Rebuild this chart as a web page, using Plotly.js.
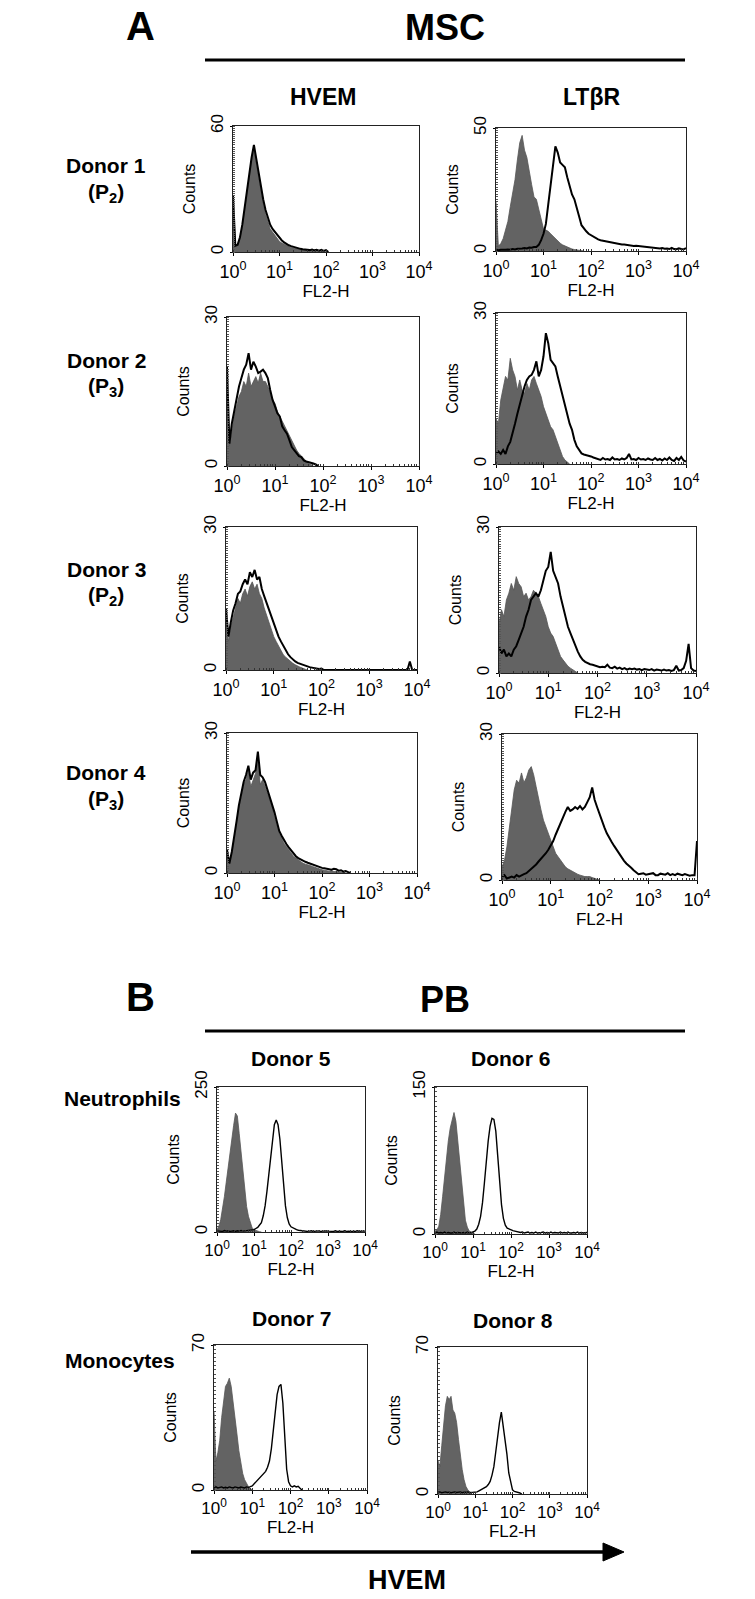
<!DOCTYPE html>
<html><head><meta charset="utf-8">
<script src="https://cdn.plot.ly/plotly-3.0.1.min.js"></script>
<style>html,body{margin:0;padding:0;background:#fff}#chart{width:755px;height:1599px}</style>
</head><body><div id="chart"></div>
<script>
// FL2-H channel bin positions (log10 of fluorescence)
const channelsLog10 = [0,0.05,0.1,0.15,0.2,0.25,0.3,0.35,0.4,0.45,0.5,0.55,0.6,0.65,0.7,0.75,0.8,0.85,0.9,0.95,1,1.05,1.1,1.15,1.2,1.25,1.3,1.35,1.4,1.45,1.5,1.55,1.6,1.65,1.7,1.75,1.8,1.85,1.9,1.95,2,2.05,2.1,2.15,2.2,2.25,2.3,2.35,2.4,2.45,2.5,2.55,2.6,2.65,2.7,2.75,2.8,2.85,2.9,2.95,3,3.05,3.1,3.15,3.2,3.25,3.3,3.35,3.4,3.45,3.5,3.55,3.6,3.65,3.7,3.75,3.8,3.85,3.9,3.95,4];
const xTickVals = [1,10,100,1000,10000];
const xTickText = ["10<sup>0</sup>","10<sup>1</sup>","10<sup>2</sup>","10<sup>3</sup>","10<sup>4</sup>"];

// Panel A: MSC, counts per channel (isotype = grey filled, stain = black outline)
const hvemD1Iso   = [27,3,3,6.6,12,20,30,37,44,49,42,37,29,23,18,14,11,9.5,8,6.5,5,4.3,3.6,3,2.6,2.2,1.9,1.5,1.2,1.1,0.9,0.8,0.7,0.5,0.4,0.3,0.3,0.2,0.1,0,0];
const hvemD1Stain = [27,3,3.5,7,13,21,31,38,45,51,44,38,31,25,20,16,13,11,9.5,8,6.5,5.5,4.6,3.8,3.2,2.8,2.4,2,1.8,1.5,1.3,1.2,1.1,0.9,1.2,0.8,1,0.6,1,0.5,0.9,0];
const ltbrD1Iso   = [20,2,3,5,8.5,12,18,23,29,37,44,47,41,38,32,27,22,21,17,12.5,9,8.5,8,7,6,5,4,3.2,2.5,2,1.5,1.1,0.8,0.6,0.4,0.3,0.2,0];
const ltbrD1Stain = [0.5,0.3,0.5,0.4,0.5,0.6,0.5,0.8,0.6,0.9,0.8,1,1.2,1,1.4,1.3,1.6,1.6,2.5,4.4,7,11,19,27.5,36,42.5,40,36,35,34,30,26,23,21,18,14,10.5,9,8,7,6.4,5.6,5,4.7,4.4,4.2,4,3.8,3.7,3.3,3,2.8,2.7,2.6,2.6,2.4,2.3,2.1,2,2.1,2,1.8,1.6,1.5,1.4,1.3,1.2,1.3,1.2,1,1.2,0.9,1,0.8,1.3,0.8,0.7,1.1,0.8,0.7,1.2];
const hvemD2Iso   = [19,4,7,10,12,14,15,17,16,18.7,16,17,18,16.7,18.7,17,17,16,14.6,13.3,12.6,11,10,9,8,7,6,5,4,3.2,2.5,2,1.5,1,0.5,0.3,0];
const hvemD2Stain = [20,4.5,8.5,11,13,16,17.7,19.4,20.4,22.7,19.4,21,20,18.7,19,19.4,18.7,17.7,15.3,13.3,12,10.6,10,8,7.2,6.5,5.2,3.8,3.2,2.5,2,1.8,1.1,0.9,0.8,0.6,0.5,0.3,0];
const ltbrD2Iso   = [9,8,12.7,15.4,17.4,16.7,21,18.7,17.4,14.7,16.7,14.7,14,16,14.7,16.7,17.4,16,14.7,13.4,11.4,10,8.8,7.4,6.8,5.4,4,2.8,1.5,0.8,0.3,0];
const ltbrD2Stain = [2,2.5,2,2.8,2,3.5,4.4,6,8,10,12,14,15.4,16.7,17.4,17.7,18.7,20.4,17.4,18.7,21.4,26,24,20.7,20,19.4,17.4,15.4,13.4,11.4,9.4,8,6.8,4.8,3.5,2.8,2.1,1.9,1.8,1.6,1.5,1.3,1.1,1,0.8,1.2,0.9,1,0.8,1.3,0.9,1,0.8,1.1,0.9,1.2,2,0.9,1,0.8,1.2,0.9,1,0.8,1.1,0.9,0.8,1.2,0.8,1,0.7,1.1,0.8,1.3,0.8,0.6,1.2,0.8,1.4,0.7,0.5];
const hvemD3Iso   = [12,6,9,11,13,15,14,16,17,15.5,17.5,18.5,17,18,16,15,13,11.5,10,8.5,7,6,5,4,3.2,2.7,2.2,1.8,1.4,1.1,0.8,0.6,0.4,0.2,0];
const hvemD3Stain = [13,7,10,12.5,14,16,16.5,18,19,18,20.5,19.5,21,19,19.5,17,15.5,14,12.5,11,9.5,8,7,6,5,4,3.3,2.7,2.2,1.8,1.5,1.3,1.2,1,0.8,0.6,0.5,0.4,0.3,0.2,0.3,0,0,0,0,0,0,0,0,0,0,0,0,0,0,0,0,0,0,0,0,0,0,0,0,0,0,0,0,0,0,0,0,0,0,0,0,1.8,0,0,0];
const ltbrD3Iso   = [10,13,11.6,15,16.4,18.4,17,19.8,18.4,17.7,15.7,16.4,15,15.7,17,16.4,15.7,14.3,13,11.6,9.5,8.2,7.5,6.1,4.8,3.4,2.7,2,1.4,1,0.7,0.3,0];
const ltbrD3Stain = [5.5,4,4.8,3.4,4,3.4,4.8,5.5,6.8,8.2,9.5,11.6,13,15,15.7,16.4,15.7,17,19,21,21.8,24.9,21,19.8,18.4,15.7,13.6,11.6,9.5,8.2,6.8,5.5,4.4,3.4,2.7,2.3,2,1.8,1.7,1.5,1.4,1.2,1.3,1.2,1.7,1.1,1,1.3,0.9,1.1,0.8,1,0.7,0.9,0.8,0.9,0.7,0.8,0.6,0.8,0.7,0.6,0.8,0.5,0.7,0.6,0.5,0.7,0.5,0.6,0.4,0.6,1.5,0.5,0.6,1,2.5,6,1,0.5,0.4];
const hvemD4Iso   = [5,2,4.3,7,10.7,14.2,16.3,19,20,22,18.5,20,21.3,24.2,19,20,18.5,17,15.6,14.2,12,10,8.5,7.5,6.4,5.7,5,4.3,3.6,3.2,2.8,2.4,2.1,1.9,1.8,1.6,1.4,1.2,1,0.8,0.7,0.6,0.5,0.4,0.5,0.3,0.3,0.2,0.2,0.1,0];
const hvemD4Stain = [5,2,4.5,7.5,11,14.5,17,19.5,21,23,20,21.5,22,26,21,20.5,19.5,18,16.5,15,13,11,9,8,7,6.2,5.5,4.8,4.2,3.6,3.2,2.9,2.6,2.4,2.2,2,1.8,1.6,1.4,1.2,1.1,1,0.9,0.8,0.7,0.9,0.8,0.5,0.6,0.3,0.4,0.2,0];
const ltbrD4Iso   = [2.7,4,6.8,11,15,18.5,20.5,19.9,22,20,21,22.6,23.3,21.6,19.2,16.4,14.4,12.3,11,9.6,8.2,6.8,5.5,4.8,4.1,3.4,2.7,2.3,2,1.7,1.4,1.2,1,0.8,0.7,0.7,0.7,0.5,0.3,0.2,0];
const ltbrD4Stain = [0.7,1,0.3,0.5,0.7,0.5,1,0.7,1,1.2,1.4,1.8,2.2,2.7,3.2,3.8,4.3,5,5.5,6.2,7,8,9.3,10.5,12,13,14,15,14.2,14.5,15,14.6,15.2,14.5,15,16,17,19,16.5,15,13.5,12,10.8,9.6,8.6,7.8,7,6.2,5.5,4.8,4,3.4,3,2.5,2,1.5,1.2,1.3,1.4,1.1,1.2,1.3,1.4,1,1,1.3,1.2,1.1,1.4,1,1.2,1,1.3,1.1,1,1.2,1,0.9,1,1,8];

// Panel B: peripheral blood, HVEM
const neutD5Iso   = [4,10,21,38,61,86,113,140,164,184,205,200,170,136,101,67,44,27,15,7,4,2.5,1,0.5,0];
const neutD5Stain = [2,1.5,2,1,2.5,1.5,2,1,1.5,2,1,2,1.5,2.5,1.5,2,2,2.5,3,3.5,4,6,8,12,16,28,45,70,100,135,165,185,193,185,160,120,80,45,25,14,9,7,5,4,3,2.5,2,1.5,2,1,1.5,2,1,1.5,1,2,1,1.5,1,2,1.5,1,1.5,1,2,1,1.5,1,1,2,1,1.5,1,1,1.5,1,2,1,1.5,1,1.5];
const neutD6Iso   = [3,4,8,20,38,58,78,95,108,118,124,115,95,70,48,28,14,7,3,2,1,0];
const neutD6Stain = [1,2,1,1.5,1,2,1,1.5,1,1,2,1,1.5,1,1,1.5,1,2,1,1.5,2,3,5,10,18,32,52,75,95,110,118,117,105,80,52,30,16,9,6,5,4,3.5,3,2.5,2,1.5,2,1,1.5,2,1,1.5,1,2,1,1,1.5,2,1,1.5,1,2,1,1.5,1,1,2,1,1.5,1,2,1,1,1.5,1,2,1,1.5,1,1,1.5];
const monoD7Iso   = [38,14,18,24,35,43,50,51.5,54,50,43,35,27,19,13,8,5,3,1.6,0.8,0];
const monoD7Stain = [1,1.5,1,1.2,1.5,1,1.3,1,1.5,1.2,1,1.5,1.2,1,1.4,1.2,1,1.5,1.3,1.6,2,3,4,5,6,7,8,9,11,14,20,28,37,46,50,51,42,25,10,4,2,1.5,2,1.5,1.8,0.8,0];
const monoD8Iso   = [16,13,23,32,42,46.5,45,46.5,40,38.5,34,26,18,11.6,6.8,3.6,2,1,0];
const monoD8Stain = [0.8,1,0.6,0.8,1,0.7,0.9,0.6,0.8,1,0.7,0.8,1,0.6,0.9,0.8,1,0.7,0.9,0.8,0.9,1,1.5,2,2.5,3,3.5,4.5,6,9,13,20,28,34,39,33,27,19,10,5,2,1.2,1,0.8,0.5,0];

const yMaxes = [60,50,30,30,30,30,30,30,250,150,70,70];
const seriesIso   = [hvemD1Iso,ltbrD1Iso,hvemD2Iso,ltbrD2Iso,hvemD3Iso,ltbrD3Iso,hvemD4Iso,ltbrD4Iso,neutD5Iso,neutD6Iso,monoD7Iso,monoD8Iso];
const seriesStain = [hvemD1Stain,ltbrD1Stain,hvemD2Stain,ltbrD2Stain,hvemD3Stain,ltbrD3Stain,hvemD4Stain,ltbrD4Stain,neutD5Stain,neutD6Stain,monoD7Stain,monoD8Stain];

// panel boxes in pixels: [left, top, right, bottom]
const boxes = [
  [233,126,419,252],[496,128,686,251],
  [227,317,419,466],[496,313,686,464],
  [226,527,417,670],[499,527,696,673],
  [227,733,417,873],[502,734,697,880],
  [217,1087,365,1232],[435,1087,587,1234],
  [214,1345,367,1490],[438,1347,587,1494]
];

const W = 755, H = 1599;
const FONT = "Liberation Sans, Arial, Helvetica, sans-serif";
const px = v => v / W, py = v => 1 - v / H;

const traces = [];
const layout = {
  width: W, height: H, margin: {l:0,r:0,t:0,b:0},
  paper_bgcolor: "#fff", plot_bgcolor: "#fff", showlegend: false,
  font: {family: FONT, color: "#000"},
  annotations: [], shapes: []
};

boxes.forEach((b, i) => {
  const k = i + 1, sfx = k === 1 ? "" : String(k);
  const partB = i >= 8;
  const xs = channelsLog10.map(v => Math.pow(10, v));
  const iso = seriesIso[i], st = seriesStain[i];
  traces.push({
    type: "scatter", mode: "lines", x: xs.slice(0, iso.length), y: iso,
    xaxis: "x" + sfx, yaxis: "y" + sfx, fill: "tozeroy",
    fillcolor: "#636363", line: {color: "#555", width: 0.8}, hoverinfo: "skip"
  });
  traces.push({
    type: "scatter", mode: "lines", x: xs.slice(0, st.length), y: st,
    xaxis: "x" + sfx, yaxis: "y" + sfx,
    line: {color: "#000", width: partB ? 1.4 : 2}, hoverinfo: "skip"
  });
  layout["xaxis" + sfx] = {
    type: "log", range: [0, 4], domain: [px(b[0]), px(b[2])], anchor: "y" + sfx,
    tickvals: xTickVals, ticktext: xTickText, ticks: "outside", ticklen: 3,
    tickcolor: "#000", tickfont: {size: partB ? 17 : 18, family: FONT, color: "#000"},
    showline: true, mirror: true, linecolor: "#222", linewidth: 1,
    showgrid: false, zeroline: false,
    minor: {dtick: "D1", ticks: "inside", ticklen: 2, tickcolor: "#333", showgrid: false},
    title: {text: "FL2-H", font: {size: 17, family: FONT, color: "#000"}, standoff: 1}
  };
  layout["yaxis" + sfx] = {
    range: [0, yMaxes[i]], domain: [py(b[3]), py(b[1])], anchor: "x" + sfx,
    tickvals: [0, yMaxes[i]], ticktext: ["0", String(yMaxes[i])], tickangle: -90,
    ticks: "outside", ticklen: 2, tickcolor: "#000",
    tickfont: {size: 17, family: FONT, color: "#000"},
    showline: true, mirror: true, linecolor: "#222", linewidth: 1,
    showgrid: false, zeroline: false,
    minor: {nticks: 14, ticks: "inside", ticklen: 2, tickcolor: "#555", showgrid: false},
    title: {text: "Counts", font: {size: 16, family: FONT, color: "#000"}, standoff: 8}
  };
});

function txt(t, x, y, size, opts) {
  layout.annotations.push(Object.assign({
    text: t, x: px(x), y: py(y), xref: "paper", yref: "paper",
    xanchor: "center", yanchor: "middle", showarrow: false,
    font: {size: size, family: FONT, color: "#000"}
  }, opts || {}));
}
// Panel A headings
txt("<b>A</b>", 140, 26, 40);
txt("<b>MSC</b>", 445, 27, 36);
txt("<b>HVEM</b>", 323, 97, 23);
txt("<b>LTβR</b>", 591, 97, 23);
const rowLabels = [["Donor 1","2"],["Donor 2","3"],["Donor 3","2"],["Donor 4","3"]];
const rowLabelY = [166, 360, 569, 773];
rowLabels.forEach((r, j) => {
  txt("<b>" + r[0] + "</b>", 106, rowLabelY[j], 21);
  txt("<b>(P<sub>" + r[1] + "</sub>)</b>", 106, rowLabelY[j] + 27, 21);
});
// Panel B headings
txt("<b>B</b>", 140, 997, 40);
txt("<b>PB</b>", 445, 999, 36);
txt("<b>Donor 5</b>", 291, 1058, 21);
txt("<b>Donor 6</b>", 511, 1058, 21);
txt("<b>Donor 7</b>", 291, 1318, 21);
txt("<b>Donor 8</b>", 513, 1320, 21);
txt("<b>Neutrophils</b>", 183, 1098, 21, {xanchor: "right"});
txt("<b>Monocytes</b>", 177, 1360, 21, {xanchor: "right"});
txt("<b>HVEM</b>", 407, 1580, 27);

const line = (x0, y0, x1, y1, w) => layout.shapes.push({
  type: "line", xref: "paper", yref: "paper", x0: px(x0), y0: py(y0), x1: px(x1), y1: py(y1),
  line: {color: "#000", width: w}
});
line(205, 60, 685, 60, 3);
line(205, 1031, 685, 1031, 3);
line(191, 1552, 606, 1552, 3.5);
layout.shapes.push({
  type: "path", xref: "paper", yref: "paper",
  path: `M ${px(603)} ${py(1543)} L ${px(624)} ${py(1552)} L ${px(603)} ${py(1561)} Z`,
  fillcolor: "#000", line: {color: "#000", width: 1}
});

Plotly.newPlot("chart", traces, layout, {staticPlot: true});
</script></body></html>
